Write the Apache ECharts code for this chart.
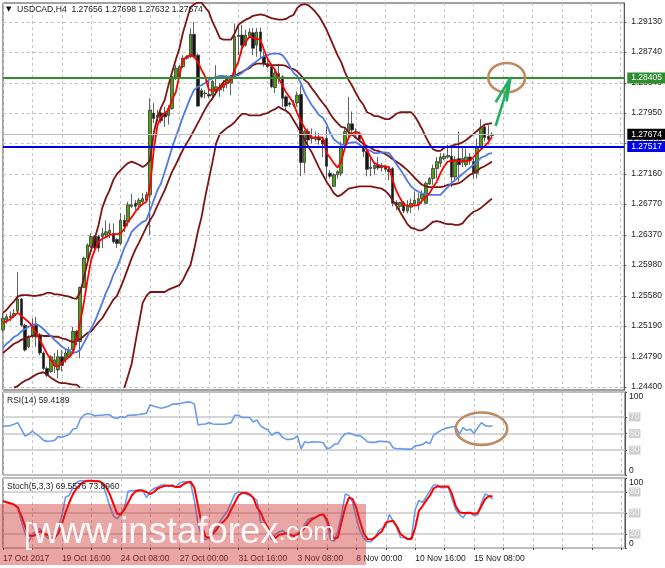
<!DOCTYPE html>
<html><head><meta charset="utf-8">
<style>html,body{margin:0;padding:0;background:#fff}#c{width:665px;height:568px}</style>
<script src="https://cdn.jsdelivr.net/npm/echarts@6/dist/echarts.min.js"></script>
</head><body><div id="c"></div>
<script>
// Prices are held as pips above 1.2000 (767 = 1.2767)
const opens=[514,527,530,532,538,554,520,492,505,520,507,484,464,460,468,462,479,475,479,488,512,499,569,607,622,635,635,635,637,639,639,631,626,656,654,674,678,676,680,682,689,795,790,795,795,792,801,840,841,855,866,868,897,870,824,820,819,818,823,825,828,833,834,840,894,896,883,895,899,883,900,868,859,855,828,846,842,816,808,806,808,819,731,771,764,761,764,760,762,717,700,715,717,754,771,781,769,767,751,745,723,723,727,726,725,722,723,679,674,679,668,673,677,676,684,678,703,710,723,730,736,738,739,712,736,731,728,738,732,717,751,777,765,765.6];
const closes=[529,531,532,535,554,520,488,505,518,505,484,464,455,479,475,479,468,484,488,512,499,569,607,624,635,620,620,639,641,643,628,626,656,648,676,676,674,682,684,689,799,788,792,785,790,801,842,853,855,866,868,897,868,804,816,821,817,836,829,828,833,838,839,894,896,883,896,900,879,900,875,859,855,829,847,840,814,804,806,807,818,731,771,760,762,764,760,755,726,713,715,719,751,771,781,773,771,761,745,722,725,727,724,724,722,719,678,676,679,668,674,678,682,684,690,704,710,723,732,738,739,740,712,735,728,736,738,734,718,751,776,763,761,767.4];
const lows=[512,522,525,529,535,518,486,490,503,492,481,462,453,458,458,451,460,471,477,486,494,477,568,605,620,618,615,620,633,633,626,620,624,641,648,672,669,669,678,680,637,782,784,782,777,780,799,838,840,853,864,866,866,803,814,814,814,813,818,816,823,827,818,839,870,872,881,892,870,868,866,855,853,827,821,833,803,797,803,803,803,713,717,751,756,758,754,738,710,710,699,710,713,749,764,766,762,758,738,713,713,715,721,719,719,708,674,669,667,665,665,665,674,669,677,677,702,702,710,725,734,736,699,706,706,725,725,728,710,710,749,758,754,763.2];
const highs=[535,535,538,541,589,555,522,507,529,531,510,486,466,481,484,488,488,488,492,518,514,570,609,626,639,637,637,646,656,652,652,633,665,663,680,690,682,685,691,693,814,808,799,797,803,805,844,857,857,870,870,905,913,872,827,825,838,838,857,834,838,844,844,911,909,909,903,905,905,905,906,875,864,859,851,859,844,818,810,812,823,831,773,775,775,771,769,764,777,721,717,721,758,775,816,797,775,771,756,747,738,732,738,730,728,725,725,682,680,681,682,684,693,691,695,706,712,728,738,743,743,754,754,739,771,750,749,743,736,762,787,781,779,769.8];
const fastMA=[523,525,528,532,536,532,528,524,519,510,501,492,483,475,467,467,471,475,479,484,501,524,549,579,605,618,628,632,634,637,638,638,639,645,654,660,667,673,677,680,699,747,779,790,795,799,812,822,844,864,868,870,868,861,851,842,825,824,825,827,831,834,838,851,861,879,887,894,892,891,890,877,865,857,851,840,831,822,815,808,795,785,776,769,763,763,763,763,743,737,730,724,732,750,763,769,770,769,759,747,738,730,728,726,726,725,708,694,685,676,675,675,675,676,681,686,691,699,706,717,726,732,733,733,733,733,733,733,738,743,748,752,757,764];
const slowMA=[491,496,500,505,507,512,515,518,520,522,519,515,510,506,501,497,492,489,487,484,485,488,497,506,516,525,537,549,562,572,585,595,607,620,630,641,646,650,654,656,669,682,695,704,719,734,750,764,777,791,803,815,825,829,831,834,838,840,842,843,843,842,842,843,844,847,851,855,859,862,866,869,870,872,872,872,870,864,856,847,843,834,822,813,805,799,792,789,781,769,761,757,754,754,756,757,757,754,751,748,746,743,743,744,744,743,737,729,722,715,707,700,696,693,691,690,689,689,689,689,694,699,704,708,712,716,720,724,728,732,737,739,742,743];
const bandUpper=[536,540,546,551,557,559,559,559,558,558,559,560,562,562,560,560,559,558,557,555,554,563,581,602,618,633,650,672,685,695,708,716,721,726,730,732,730,728,725,728,734,769,789,802,812,831,848,864,879,900,916,932,936,938,938,932,926,913,903,892,890,890,890,898,909,913,916,918,921,922,923,922,920,918,917,916,916,917,920,922,931,935,936,935,931,926,920,912,903,892,881,870,861,848,838,830,821,812,806,796,794,791,791,789,787,787,790,794,796,796,796,796,791,783,774,764,755,748,746,746,750,751,752,754,755,757,760,764,768,772,776,780,781,782];
const bandMid=[484,488,492,496,498,501,503,505,506,507,507,506,506,506,505,505,503,502,500,498,500,502,506,510,512,518,524,529,537,545,553,558,569,581,594,607,618,627,637,647,656,664,675,685,695,707,719,728,738,748,756,764,773,782,791,800,808,814,822,829,835,839,843,843,846,848,851,853,857,859,859,859,857,857,857,857,857,856,853,852,849,844,838,834,827,821,814,808,802,794,787,782,777,776,770,767,763,759,755,752,750,747,746,744,742,739,735,732,729,725,721,716,711,706,702,700,699,699,699,699,700,702,702,703,704,707,711,715,717,720,724,726,729,732];
const bandLower=[null,null,null,439,441,445,448,450,453,456,458,459,456,452,449,446,445,445,444,443,443,439,null,null,null,null,null,null,null,null,null,null,null,439,454,470,497,523,549,558,563,563,563,563,563,566,568,570,572,579,589,598,618,641,660,686,709,732,756,768,772,776,779,783,789,794,794,792,792,792,792,794,795,798,800,803,800,798,794,786,778,770,761,752,744,734,724,715,706,699,691,687,689,693,697,698,699,700,700,700,700,699,698,697,694,689,682,675,667,659,651,646,645,643,643,646,650,654,655,654,652,651,651,650,650,652,658,663,667,669,672,676,680,684];
const rsi=[58.7,59.1,59.5,61.1,63.1,55,47,49,53,49,46.2,41.7,40.5,40.9,41.7,46.2,45.4,47,49,55,56.3,67.2,72.4,74,73.2,71.2,72,72,72.8,72.4,69.2,68,70.4,69.2,72,72,72.4,72.8,73.6,74.5,84.6,82.9,81.7,80.5,81.7,82.9,85.4,85.4,86.2,87,87.8,87.8,85.4,60.3,61.1,61.5,63.1,61.5,61.1,61.1,61.1,61.9,63.1,72,72,69.2,69.2,69.2,63.9,66.4,59.1,56.3,54.3,47.8,51,51,45,42.9,42.9,43.7,47,31.6,40.1,38.9,40.1,39.7,39.7,38.9,31.6,32.8,36.9,37.7,45,49.8,50.6,49,47.4,47.4,44.2,40.1,39.3,39.3,40.5,40.5,40.1,39.7,32.8,31.6,32,31.2,31.2,31.2,35.3,35.7,36.9,39.7,37.7,48.2,51,53.8,55.9,57.1,57.9,58.7,49,57.1,53.8,55,50.2,57.1,63.1,59.5,58.7,59.4];
const stochK=[67,66,64,62,58,38,21,9,19,24,28,21,15,13,13,29,46,73,75,87,94,96,96,96,96,96,96,92,77,60,46,42,48,58,81,82,82,83,82,72,81,85,87,90,90,88,90,87,93,94.5,94.5,92,68,34,16,12,14,21,31,38,46,53,65,77,80,79,77,75,72,68,37,34,24,12,19,23,25,20,18,18,21,24,34,41,43,44,47,48,36,12,10,24,48,77,75,65,43,24,14,9,9,14,24,28,31,48,38,29,15,15,12,16,55,68,65,73,82,90,90,86,86,87,70,55,48,43,51,51,46,48,65,77,75,69.56];
const stochD=[67,65,64,62,58,46,31,18,17,19,24,21,19,15,14,21,34,51,65,77,85,91,94.5,96,96,95.5,95.5,93,87,77,63,49,48,55,65,75,81,82,82,80,77,80,85,87,89,89,89,87,87,91,93.5,94.5,86,60,34,16,15,20,26,34,38,44,55,65,75,79,79,77,72,58,51,38,29,19,14,19,20,21,19,17,19,23,29,36,41,44,47,48,41,24,13,15,38,58,72,70,57,38,21,13,12,15,20,24,36,38,39,31,20,16,13,13,29,53,60,68,75,85,88,88,88,88,77,60,51,50,50,50,49,50,60,70,74,73.9];

const timeLabels=['17 Oct 2017','19 Oct 16:00','24 Oct 08:00','27 Oct 00:00','31 Oct 16:00','3 Nov 08:00','8 Nov 00:00','10 Nov 16:00','15 Nov 08:00'];
const slotCount=170, barsPerLabel=16, barsPerGrid=8;
const priceTicks=[1.2913,1.2874,1.2834,1.2795,1.2756,1.2716,1.2677,1.2637,1.2598,1.2558,1.2519,1.2479,1.244];
const priceMin=1.24360, priceMax=1.29376;
const resistance=1.28405, support=1.27517, lastPrice=1.27674;
const rsiTicks=[0,30,50,70,100], stochTicks=[0,20,50,80,100];
const arrowShaft=[[134,778],[138,840]], arrowHead=[[134,809],[138,840],[137,810]];
const priceRing=[137,1.28408,10,0.0038], rsiRing=[130,55.8,13,39];
const headerMain='USDCAD,H4  1.27656 1.27698 1.27632 1.27674';
const headerRsi='RSI(14) 59.4189', headerStoch='Stoch(5,3,3) 69.5576 73.8960';

const toPrice=p=>p==null?null:+(1.2+p/1e4).toFixed(5);
const FONT='Liberation Sans', FS=8.5;
const categories=Array.from({length:slotCount},(_,i)=>i%barsPerLabel===0&&timeLabels[i/barsPerLabel]?timeLabels[i/barsPerLabel]:'bar'+i);
const candleData=opens.map((o,i)=>[toPrice(o),toPrice(closes[i]),toPrice(lows[i]),toPrice(highs[i])]);

const vGrid={show:true,interval:barsPerGrid-1,lineStyle:{color:'#c4c4c4',type:[3,3],width:1}};
const xAxis=(gridIndex,showLabels)=>({type:'category',gridIndex,data:categories,boundaryGap:false,
  axisLine:{show:false},
  axisTick:{show:showLabels,interval:barsPerGrid-1,length:2,lineStyle:{color:'#444'}},
  axisLabel:{show:showLabels,interval:barsPerLabel-1,align:'left',margin:6,color:'#222',fontFamily:FONT,fontSize:FS,
    formatter:v=>v.startsWith('bar')?'':v},
  splitLine:vGrid});
const levelAxis=(gridIndex,ticks,levels)=>({type:'value',gridIndex,position:'right',min:0,max:100,
  axisLine:{show:true,lineStyle:{color:'#555'}},
  axisTick:{show:true,length:2,customValues:ticks,lineStyle:{color:'#555'}},
  axisLabel:{customValues:ticks,margin:4,color:'#222',fontFamily:FONT,fontSize:FS,align:'left',
    verticalAlignMinLabel:'bottom',verticalAlignMaxLabel:'top',
    formatter:v=>levels.includes(v)?`{lvl|${v}}`:`${v}`,
    rich:{lvl:{color:'#f2f2f2',backgroundColor:'#cfcfcf',fontFamily:FONT,fontSize:FS,padding:[0,1]}}},
  splitLine:{show:true,lineStyle:{color:'#c8c8c8',width:1.5}}});
const line=(name,data,color,width,x,y,z)=>({name,type:'line',xAxisIndex:x,yAxisIndex:y,data,symbol:'none',smooth:false,
  connectNulls:false,z:z||3,lineStyle:{color,width},silent:true,animation:false});
const level=(value,color,tagBg,tagColor,w)=>({yAxis:value,lineStyle:{color,width:w,type:'solid'},
  label:{show:true,position:'end',formatter:value.toFixed(5),distance:3,color:tagColor,backgroundColor:tagBg,
    fontFamily:FONT,fontSize:FS,padding:[1,3,1,4]}});
const ring=(spec,x,y)=>({type:'custom',xAxisIndex:x,yAxisIndex:y,data:[spec],z:20,silent:true,clip:false,
  encode:{x:0,y:1},
  renderItem:(p,api)=>{const cx=api.value(0),cy=api.value(1),hx=api.value(2)/2,hy=api.value(3)/2;
    const c=api.coord([cx,cy]),ex=api.coord([cx+hx,cy]),ey=api.coord([cx,cy+hy]);
    return {type:'ellipse',shape:{cx:c[0],cy:c[1],rx:Math.abs(ex[0]-c[0]),ry:Math.abs(ey[1]-c[1])},style:{fill:'none',stroke:'#c08a60',lineWidth:2.6}};}});

const chart=echarts.init(document.getElementById('c'),null,{renderer:'canvas'});
chart.setOption({
  animation:false,backgroundColor:'#fff',
  grid:[
    {left:3,top:3,width:622,height:387,show:true,borderColor:'#444',borderWidth:1,backgroundColor:'#fff'},
    {left:3,top:392,width:622,height:83,show:true,borderColor:'#444',borderWidth:1,backgroundColor:'#fff'},
    {left:3,top:478,width:622,height:70,show:true,borderColor:'#444',borderWidth:1,backgroundColor:'#fff'}],
  xAxis:[xAxis(0,false),xAxis(1,false),xAxis(2,true)],
  yAxis:[
    {type:'value',gridIndex:0,position:'right',min:priceMin,max:priceMax,
      axisLine:{show:true,lineStyle:{color:'#555'}},
      axisTick:{show:true,length:2,customValues:priceTicks,lineStyle:{color:'#555'}},
      axisLabel:{customValues:priceTicks,margin:7,color:'#222',fontFamily:FONT,fontSize:FS,formatter:v=>v.toFixed(5)},
      splitLine:{show:true,lineStyle:{color:'#c4c4c4',type:[3,3],width:1}}},
    levelAxis(1,rsiTicks,[30,50,70]),
    levelAxis(2,stochTicks,[20,50,80])],
  graphic:[
    {type:'text',left:6,top:6,z:50,style:{text:'▼',fontFamily:'DejaVu Sans',fontSize:7,fill:'#111'}},
    {type:'text',left:17,top:5,z:50,style:{text:headerMain,fontFamily:FONT,fontSize:8.6,fill:'#222'}},
    {type:'text',left:7,top:396,z:50,style:{text:headerRsi,fontFamily:FONT,fontSize:FS,fill:'#222'}},
    {type:'text',left:7,top:482,z:50,style:{text:headerStoch,fontFamily:FONT,fontSize:FS,fill:'#222'}},
    {type:'rect',left:0,top:504,z:60,shape:{width:366,height:61},style:{fill:'rgba(205,40,40,0.42)'}},
    {type:'text',left:24,top:521,z:61,style:{text:'[',fontFamily:FONT,fontSize:30,fill:'rgba(255,255,255,0.9)'}},
    {type:'text',left:33,top:514,z:61,style:{fontFamily:FONT,fill:'rgba(255,255,255,0.92)',
      text:'{a|www.instaforex}{b|.com}',rich:{a:{fontFamily:FONT,fontSize:36.5,fill:'rgba(255,255,255,0.92)'},b:{fontFamily:FONT,fontSize:26,fill:'rgba(255,255,255,0.92)'}}}}
  ],
  series:[
    {type:'candlestick',xAxisIndex:0,yAxisIndex:0,data:candleData,barWidth:3,z:2,silent:true,
      itemStyle:{color:'#52a010',color0:'#151515',borderColor:'#3a3a3a',borderColor0:'#3a3a3a',borderWidth:0.8},
      markLine:{silent:true,symbol:'none',animation:false,z:6,precision:5,data:[
        level(lastPrice,'#c0c0c0','#000','#fff',1),
        level(resistance,'#2f8f2f','#2f8f2f','#fff',2),
        level(support,'#0000e6','#0000e6','#fff',2)]}},
    line('upper',bandUpper.map(toPrice),'#7d1414',1.8,0,0),
    line('mid',bandMid.map(toPrice),'#7d1414',1.8,0,0),
    line('lower',bandLower.map(toPrice),'#7d1414',1.8,0,0),
    line('slow',slowMA.map(toPrice),'#4f78e8',1.8,0,0,4),
    line('fast',fastMA.map(toPrice),'#ff0000',1.8,0,0,5),
    line('rsi',rsi,'#6a9be8',1.6,1,1),
    line('k',stochK,'#6a9be8',1.6,2,2),
    line('d',stochD,'#ff0000',2,2,2,4),
    line('shaft',arrowShaft.map(a=>[a[0],toPrice(a[1])]),'#22b060',2.6,0,0,21),
    line('head',arrowHead.map(a=>[a[0],toPrice(a[1])]),'#22b060',2.6,0,0,21),
    ring(priceRing,0,0),
    ring(rsiRing,1,1)
  ]
});
</script></body></html>
